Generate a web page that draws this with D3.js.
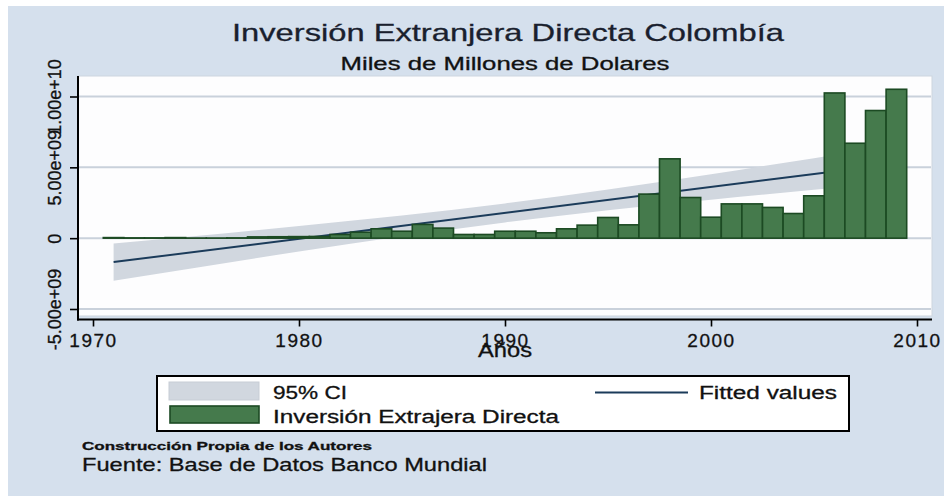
<!DOCTYPE html>
<html><head><meta charset="utf-8">
<script src="https://cdn.jsdelivr.net/npm/d3@7"></script>
<style>html,body{margin:0;padding:0;background:#fff;} svg{display:block;font-family:"Liberation Sans",Arial,sans-serif;} text{paint-order:stroke;}</style>
</head><body><svg id="c" width="944" height="496"></svg>
<script>
// ---- data (billions of US dollars) ----
const years = [1971,1972,1973,1974,1975,1976,1977,1978,1979,1980,1981,1982,1983,1984,1985,1986,1987,1988,1989,1990,
               1991,1992,1993,1994,1995,1996,1997,1998,1999,2000,2001,2002,2003,2004,2005,2006,2007,2008,2009];
const fdi   = [0.04,0.02,0.02,0.04,0.01,0.01,0.02,0.09,0.10,0.11,0.12,0.26,0.42,0.66,0.49,0.97,0.71,0.26,0.26,0.49,
               0.49,0.38,0.66,0.92,1.46,0.94,3.11,5.60,2.87,1.48,2.42,2.42,2.17,1.74,2.99,10.25,6.70,9.01,10.51];
const fitYears  = [1971, 2009];
const fitValues = [-1.69, 5.26];
const ciYears = [1971,1975,1980,1985,1990,1995,2000,2005,2009];
const ciLower = [-3.00,-2.08,-0.94,0.14,1.11,1.97,2.71,3.41,3.95];
const ciUpper = [-0.38,0.16,0.86,1.60,2.45,3.43,4.51,5.65,6.57];
const yTicks = [-5,0,5,10];
const yTickLabels = ["-5.00e+09","0","5.00e+09","1.00e+10"];
const xTicks = [1970,1980,1990,2000,2010];
const titleText = "Inversión Extranjera Directa Colombía";
const subtitleText = "Miles de Millones de Dolares";
const xTitle = "Años";
const legendLabels = ["95% CI","Fitted values","Inversión Extrajera Directa"];
const note1 = "Construcción Propia de los Autores";
const note2 = "Fuente: Base de Datos Banco Mundial";

const svg = d3.select("#c");
const BG = "#d5e0ed", CI = "#d1d7df", LINE = "#1b3b5a", BAR = "#457a4c", BARS = "#1c4a23";

svg.append("rect").attr("x",0).attr("y",0).attr("width",944).attr("height",496).attr("fill","#fff");
svg.append("rect").attr("x",8).attr("y",6).attr("width",936).attr("height",490).attr("fill",BG);

const x = d3.scaleLinear().domain([1970,2010]).range([93,917]);
const y = d3.scaleLinear().domain([-5,10]).range([309,96.5]);
const bw = x(1971)-x(1970);

// plot region
svg.append("rect").attr("x",78).attr("y",76).attr("width",854).attr("height",240)
  .attr("fill","#fdfdfe").attr("stroke","#cdd5df").attr("stroke-width",1);

// grid
svg.append("g").selectAll("line").data(yTicks).join("line")
  .attr("x1",79).attr("x2",931).attr("y1",d=>y(d)).attr("y2",d=>y(d))
  .attr("stroke","#c9d1db").attr("stroke-width",2);

// CI band
const area = d3.area().x((d,i)=>x(ciYears[i])).y0((d,i)=>y(ciLower[i])).y1((d,i)=>y(ciUpper[i])).curve(d3.curveMonotoneX);
svg.append("path").datum(ciYears).attr("d",area).attr("fill",CI);

// fitted line
const line = d3.line().x((d,i)=>x(fitYears[i])).y((d,i)=>y(fitValues[i]));
svg.append("path").datum(fitYears).attr("d",line).attr("fill","none").attr("stroke",LINE).attr("stroke-width",2);

// bars
svg.append("g").selectAll("rect").data(years).join("rect")
  .attr("x",d=>x(d)-bw/2).attr("width",bw)
  .attr("y",(d,i)=>Math.min(y(fdi[i]),y(0)))
  .attr("height",(d,i)=>Math.abs(y(0)-y(fdi[i])))
  .attr("fill",BAR).attr("stroke",BARS).attr("stroke-width",1.6);

// axes
const AX = 319.5;
const yAxis = svg.append("g").attr("transform","translate(78,0)")
  .call(d3.axisLeft(y).tickValues(yTicks).tickSize(8).tickFormat((d,i)=>yTickLabels[i]));
yAxis.select(".domain").remove();
yAxis.selectAll(".tick line").attr("stroke","#000").attr("stroke-width",1.6);
yAxis.selectAll(".tick text").attr("x",0).attr("y",-17).attr("dy",null)
  .attr("text-anchor","middle").attr("transform","rotate(-90)")
  .attr("font-size",18).attr("font-family","Liberation Sans, Arial, sans-serif").attr("fill","#111")
  .attr("stroke","#111").attr("stroke-width",0.3);
svg.append("line").attr("x1",78).attr("x2",78).attr("y1",76).attr("y2",AX+1).attr("stroke","#000").attr("stroke-width",2);

const xAxis = svg.append("g").attr("transform",`translate(0,${AX})`)
  .call(d3.axisBottom(x).tickValues(xTicks).tickSize(7).tickFormat(d3.format("d")));
xAxis.select(".domain").remove();
xAxis.selectAll(".tick line").attr("stroke","#000").attr("stroke-width",1.6);
xAxis.selectAll(".tick text").attr("y",27.5).attr("dy",null)
  .attr("font-size",19).attr("letter-spacing","1.5px").attr("font-family","Liberation Sans, Arial, sans-serif").attr("fill","#111")
  .attr("stroke","#111").attr("stroke-width",0.3);
svg.append("line").attr("x1",77).attr("x2",932).attr("y1",AX).attr("y2",AX).attr("stroke","#000").attr("stroke-width",2);

function fit(sel, w){ sel.attr("textLength",w).attr("lengthAdjust","spacingAndGlyphs").attr("stroke",sel.attr("fill")).attr("stroke-width",0.3); return sel; }

svg.append("text").attr("x",505).attr("y",357).attr("text-anchor","middle").attr("font-size",20)
  .attr("fill","#111").text(xTitle).call(fit,54);

// titles
svg.append("text").attr("x",508).attr("y",41).attr("text-anchor","middle").attr("font-size",24)
  .attr("fill","#1a1f2e").text(titleText).call(fit,552);
svg.append("text").attr("x",505).attr("y",70).attr("text-anchor","middle").attr("font-size",18)
  .attr("fill","#111").text(subtitleText).call(fit,329);

// legend
svg.append("rect").attr("x",157).attr("y",376).attr("width",692).attr("height",55)
  .attr("fill","#fff").attr("stroke","#000").attr("stroke-width",2);
svg.append("rect").attr("x",169).attr("y",382).attr("width",90).attr("height",18).attr("fill",CI).attr("stroke","#c7cdd5");
svg.append("rect").attr("x",170).attr("y",406).attr("width",89).attr("height",17).attr("fill",BAR).attr("stroke",BARS).attr("stroke-width",1.6);
svg.append("line").attr("x1",595).attr("x2",688).attr("y1",392.5).attr("y2",392.5).attr("stroke",LINE).attr("stroke-width",2);
svg.append("text").attr("x",273).attr("y",399).attr("font-size",18).attr("fill","#111").text(legendLabels[0]).call(fit,74);
svg.append("text").attr("x",699).attr("y",399).attr("font-size",18).attr("fill","#111").text(legendLabels[1]).call(fit,138);
svg.append("text").attr("x",273).attr("y",423).attr("font-size",18).attr("fill","#111").text(legendLabels[2]).call(fit,286);

// notes
svg.append("text").attr("x",82).attr("y",450).attr("font-size",11).attr("font-weight","bold").attr("fill","#111").text(note1).call(fit,290);
svg.append("text").attr("x",82).attr("y",471).attr("font-size",19).attr("fill","#111").text(note2).call(fit,405);
</script></body></html>
